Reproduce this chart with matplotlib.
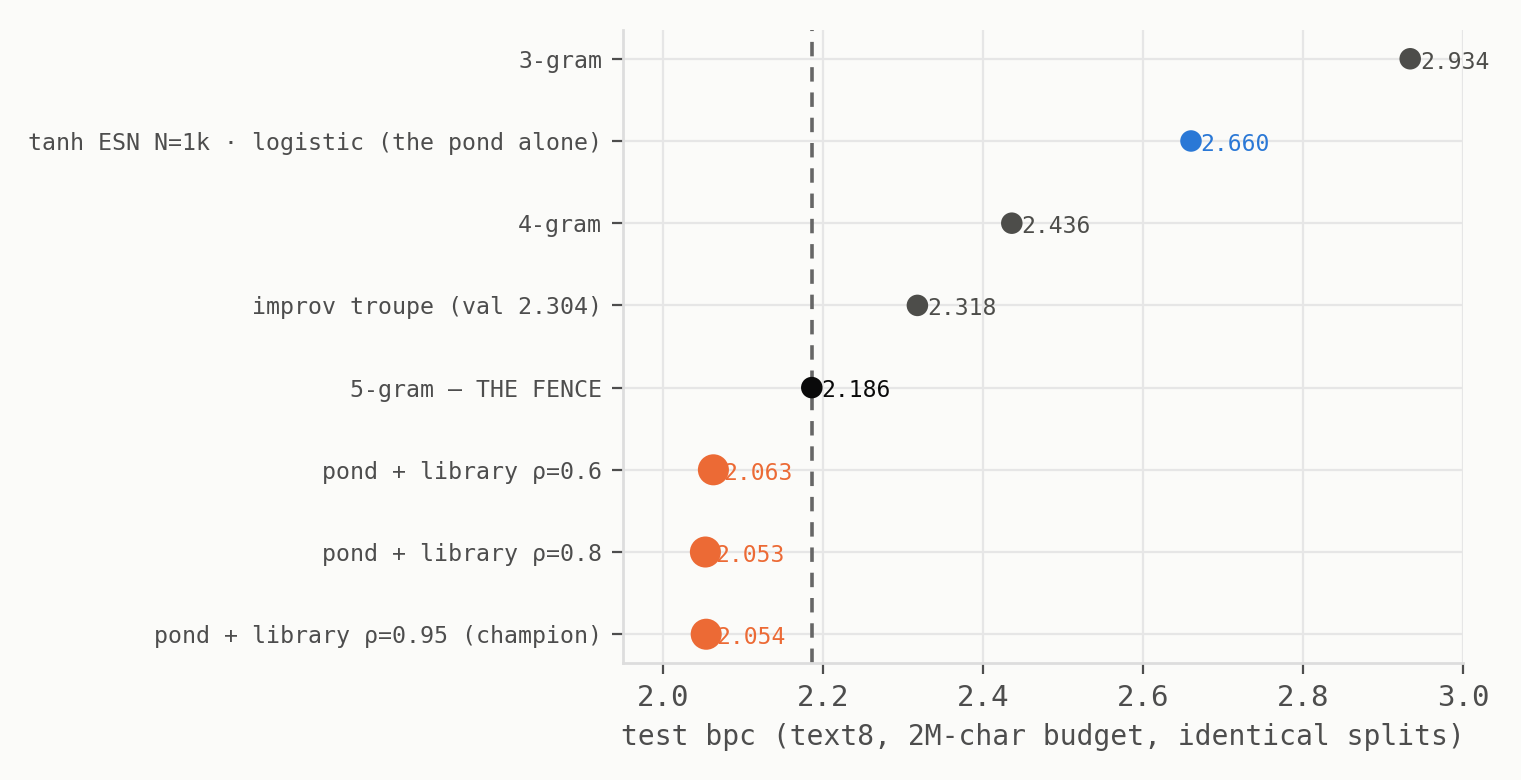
import matplotlib.pyplot as plt

plt.rcParams['font.family'] = ['DejaVu Sans Mono', 'DejaVu Sans']

labels = [
    "3-gram",
    "tanh ESN N=1k · logistic (the pond alone)",
    "4-gram",
    "improv troupe (val 2.304)",
    "5-gram — THE FENCE",
    "pond + library ρ=0.6",
    "pond + library ρ=0.8",
    "pond + library ρ=0.95 (champion)",
]
bpc = [2.934, 2.660, 2.436, 2.318, 2.186, 2.063, 2.053, 2.054]
colors = ["#4d4d4a", "#2a78d6", "#4d4d4a", "#4d4d4a", "#0a0a0a",
          "#ec6a35", "#ec6a35", "#ec6a35"]
sizes = [60, 60, 60, 60, 60, 125, 125, 125]
fence = 2.186

bg = "#fbfbf9"
txt = "#4d4d4d"

fig = plt.figure(figsize=(7.605, 3.9), dpi=200, facecolor=bg)
ax = fig.add_axes([623 / 1521, 1 - 663 / 780, 840 / 1521, 633 / 780])
ax.set_facecolor(bg)

ys = list(range(len(labels)))
ax.scatter(bpc, ys, s=sizes, c=colors, zorder=3, linewidths=0)
for x, y, c in zip(bpc, ys, colors):
    ax.annotate(f"{x:.3f}", (x, y), xytext=(3.5, -1.2), textcoords="offset points",
                va="center", ha="left", fontsize=8.3, color=c, zorder=4)

ax.axvline(fence, color="#666666", linestyle=(0, (4, 3)), linewidth=1.3, zorder=2)

ax.set_yticks(ys)
ax.set_yticklabels(labels, fontsize=8.4, color=txt)
ax.set_ylim(7.35, -0.35)
ax.set_xlim(1.95, 3.0)
ax.set_xticks([2.0, 2.2, 2.4, 2.6, 2.8, 3.0])
ax.tick_params(axis="x", labelsize=10.5, colors=txt, length=4, width=0.8)
ax.tick_params(axis="y", colors=txt, length=4, width=0.8)
ax.set_xlabel("test bpc (text8, 2M-char budget, identical splits)", fontsize=10.1,
              color=txt, labelpad=4)

ax.grid(True, color="#e6e6e6", linewidth=0.8, zorder=0)
ax.set_axisbelow(True)
for s in ["top", "right"]:
    ax.spines[s].set_visible(False)
for s in ["left", "bottom"]:
    ax.spines[s].set_color("#dddddd")
    ax.spines[s].set_linewidth(1.0)

fig.savefig("out.png", dpi=200, facecolor=bg)
